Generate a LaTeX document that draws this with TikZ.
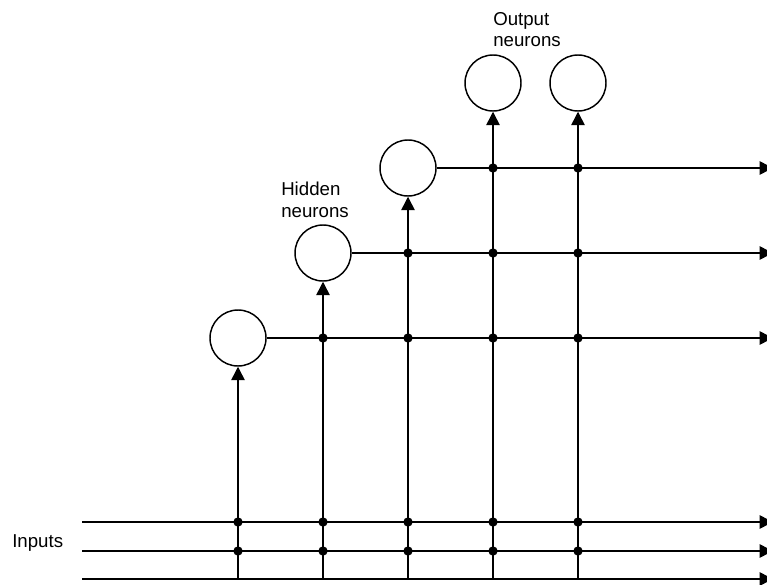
\documentclass[tikz,border=0pt]{standalone}
\usepackage{fontspec}
\setmainfont{Liberation Sans}
\usetikzlibrary{arrows.meta}
\begin{document}
\begin{tikzpicture}[x=0.75pt,y=-0.75pt,
  wire/.style={line width=1.1pt, draw=black},
  tip/.style={wire, -{Triangle[length=10pt,width=10pt]}},
  neuron/.style={circle, draw, line width=1.1pt, minimum size=42pt, inner sep=0pt},
  junction/.style={circle, fill, inner sep=0pt, minimum size=7pt},
  lbl/.style={font=\fontsize{14}{16.5}\selectfont, align=left, inner sep=0pt}]
\useasboundingbox (0,0) rectangle (767,585);

% neurons
\node[neuron] (h1) at (238,338) {};
\node[neuron] (h2) at (323,253) {};
\node[neuron] (h3) at (408,168) {};
\node[neuron] (o1) at (493,83) {};
\node[neuron] (o2) at (578,83) {};

% input lines: start and end points
\coordinate (iw1) at (82,522);
\coordinate (iw2) at (82,551);
\coordinate (iw3) at (82,579);
\coordinate (ie) at (773,0);

\foreach \r in {iw1,iw2,iw3}
  \draw[tip] (\r) -- (\r -| ie);

% vertical feeds from the bottom input line up to each neuron
\foreach \n in {h1,h2,h3,o1,o2}
  \draw[tip] (\n |- iw3) -- (\n);

% outputs of the hidden neurons running to the right
\foreach \n in {h1,h2,h3}
  \draw[tip] (\n) -- (\n -| ie);

% junctions
\foreach \n in {h1,h2,h3,o1,o2}
  \foreach \r in {iw1,iw2}
    \node[junction] (d-\n-\r) at (\n |- \r) {};
\foreach \n in {h2,h3,o1,o2}
  \node[junction] (d-\n-h1) at (\n |- h1) {};
\foreach \n in {h3,o1,o2}
  \node[junction] (d-\n-h2) at (\n |- h2) {};
\foreach \n in {o1,o2}
  \node[junction] (d-\n-h3) at (\n |- h3) {};

% labels (base anchor sits on the last line)
\node[lbl, anchor=base west] (inlbl) at (12,547) {Inputs};
\node[lbl, anchor=base west] (hidlbl) at (281,217) {Hidden\\neurons};
\node[lbl, anchor=base west] (outlbl) at (493,47) {Output\\neurons};
\end{tikzpicture}
\end{document}
